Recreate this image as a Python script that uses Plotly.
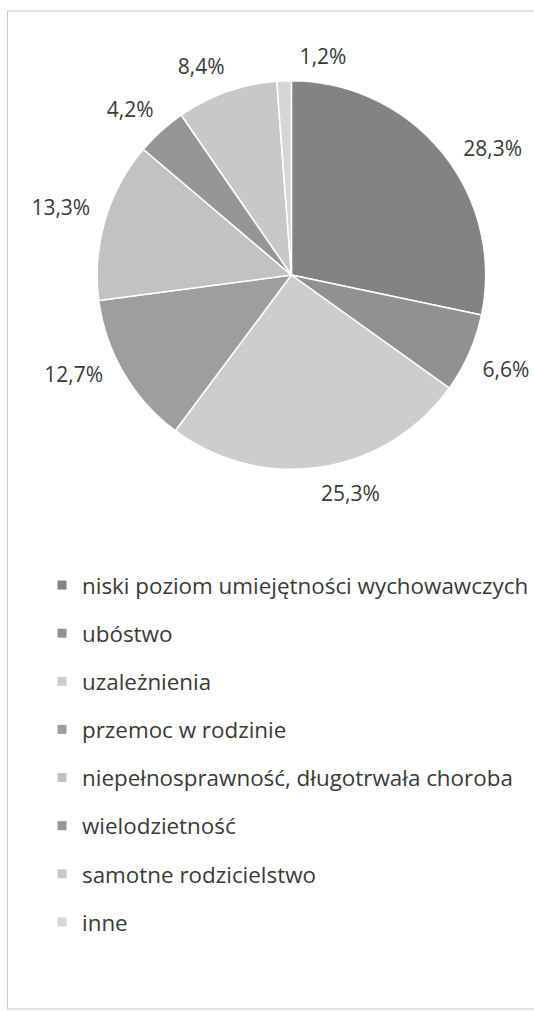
import plotly.graph_objects as go

categories = [
    "niski poziom umiejętności wychowawczych",
    "ubóstwo",
    "uzależnienia",
    "przemoc w rodzinie",
    "niepełnosprawność, długotrwała choroba",
    "wielodzietność",
    "samotne rodzicielstwo",
    "inne",
]
values = [28.3, 6.6, 25.3, 12.7, 13.3, 4.2, 8.4, 1.2]
colors = ["#838383", "#919191", "#cdcdcd", "#9e9e9e", "#c2c2c2", "#969696", "#c8c8c8", "#d6d6d6"]

W, H = 534, 1012
cx, cy, r = 292.5, 275, 195
r_text = 206  # radius of the invisible ring that carries the outside labels


def dom(rad):
    return dict(x=[(cx - rad) / W, (cx + rad) / W], y=[1 - (cy + rad) / H, 1 - (cy - rad) / H])


fig = go.Figure()
# label carrier (transparent, slightly larger so labels sit further out)
fig.add_trace(go.Pie(
    labels=categories,
    values=values,
    sort=False,
    direction="clockwise",
    rotation=2.5,
    marker=dict(colors=["rgba(0,0,0,0)"] * len(values), line=dict(width=0)),
    texttemplate="%{value:.1f}%",
    textposition="outside",
    textfont=dict(family="Open Sans", size=21, color="#3a3a3a"),
    showlegend=False,
    hoverinfo="skip",
    domain=dom(r_text),
))
# visible pie
fig.add_trace(go.Pie(
    labels=categories,
    values=values,
    sort=False,
    direction="clockwise",
    rotation=0,
    marker=dict(colors=colors, line=dict(color="white", width=1.5)),
    textinfo="none",
    showlegend=False,
    hoverinfo="label+value",
    domain=dom(r),
))

for i, (c, col) in enumerate(zip(categories, colors)):
    fig.add_trace(go.Scatter(
        x=[None], y=[None], mode="markers", name=c,
        marker=dict(symbol="square", size=9, color=col),
        legendgroup=f"g{i}", showlegend=True,
    ))

fig.update_xaxes(visible=False)
fig.update_yaxes(visible=False)
fig.update_layout(
    width=W, height=H,
    margin=dict(l=0, r=0, t=0, b=0),
    paper_bgcolor="white", plot_bgcolor="white",
    separators=", ",
    legend=dict(
        x=44 / W, y=1 - 564 / H, xanchor="left", yanchor="top",
        font=dict(family="Open Sans", size=22.4, color="#3a3a3a"),
        tracegroupgap=16, itemwidth=30,
        bgcolor="rgba(0,0,0,0)",
    ),
    shapes=[dict(type="rect", xref="paper", yref="paper",
                 x0=7.5 / W, x1=1.02, y0=1 - 1009 / H, y1=1 - 11 / H,
                 line=dict(color="#c8c8c8", width=1), fillcolor="rgba(0,0,0,0)")],
)

fig.write_html("out.html", config={"displayModeBar": False},
               post_script="document.body.style.margin='0';document.body.style.overflow='hidden';")
